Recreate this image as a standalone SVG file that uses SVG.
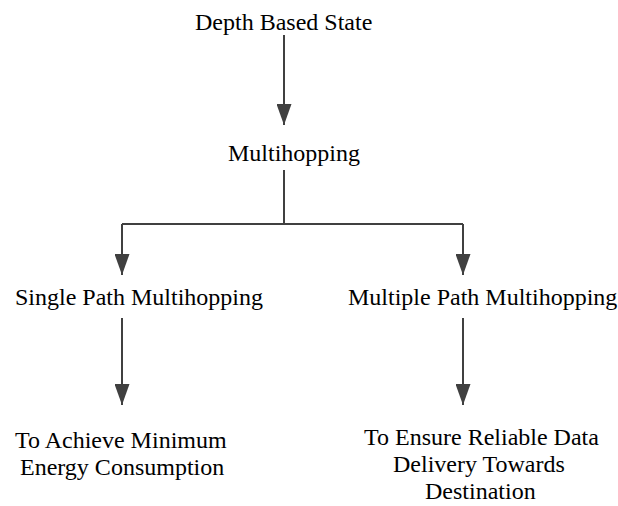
<svg xmlns="http://www.w3.org/2000/svg" width="618" height="506" viewBox="0 0 618 506">
<defs>
<marker id="ah" viewBox="0 0 21 15" refX="21" refY="7.5" markerWidth="21" markerHeight="15" markerUnits="userSpaceOnUse" orient="auto">
<path d="M0,0 L21,7.5 L0,15 Z" fill="#404040"/>
</marker>
</defs>
<rect width="618" height="506" fill="#fff"/>
<g id="connectors" stroke="#404040" stroke-width="2" fill="none">
<line x1="284" y1="35" x2="284" y2="125" marker-end="url(#ah)"/>
<path d="M284,170 V224 M122,224 H463"/>
<line x1="122" y1="224" x2="122" y2="275" marker-end="url(#ah)"/>
<line x1="463" y1="224" x2="463" y2="275" marker-end="url(#ah)"/>
<line x1="122" y1="318" x2="122" y2="405" marker-end="url(#ah)"/>
<line x1="463" y1="318" x2="463" y2="405" marker-end="url(#ah)"/>
</g>
<g id="n1"><text x="195" y="30" font-family="Liberation Serif" font-size="24">Depth Based State</text></g>
<g id="n2"><text x="228" y="161" font-family="Liberation Serif" font-size="24">Multihopping</text></g>
<g id="n3"><text x="15" y="305" font-family="Liberation Serif" font-size="24">Single Path Multihopping</text></g>
<g id="n4"><text x="348" y="305" font-family="Liberation Serif" font-size="24">Multiple Path Multihopping</text></g>
<g id="n5"><text x="15" y="448" font-family="Liberation Serif" font-size="24">To Achieve Minimum</text><text x="20" y="475" font-family="Liberation Serif" font-size="24">Energy Consumption</text></g>
<g id="n6"><text x="364" y="445" font-family="Liberation Serif" font-size="24">To Ensure Reliable Data</text><text x="393" y="472" font-family="Liberation Serif" font-size="24">Delivery Towards</text><text x="425" y="499" font-family="Liberation Serif" font-size="24">Destination</text></g>
</svg>
